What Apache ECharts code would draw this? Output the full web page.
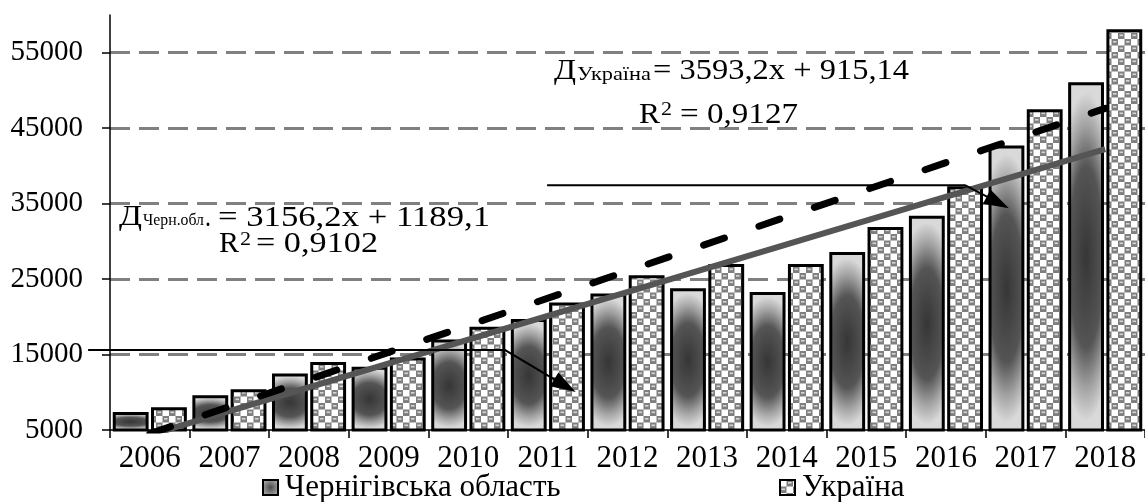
<!DOCTYPE html>
<html>
<head>
<meta charset="utf-8">
<script src="https://cdn.jsdelivr.net/npm/echarts@6/dist/echarts.min.js"></script>
<style>
  html, body { margin: 0; padding: 0; background: #fff; }
  #chart { width: 1145px; height: 502px; }
</style>
</head>
<body>
<div id="chart"></div>
<script>
// ---------- data ----------
const years = ['2006','2007','2008','2009','2010','2011','2012','2013','2014','2015','2016','2017','2018'];
const chernihiv = [7200, 9400, 12300, 13200, 16800, 19500, 22900, 23600, 23100, 28400, 33200, 42500, 50900];
const ukraine   = [7800, 10200, 13800, 14400, 18500, 21700, 25300, 26800, 26800, 31700, 37100, 47300, 57900];
// linear trend values at first and last category (from the printed equations)
const chernTrend = [4345, 42220];
const ukrTrend   = [4508, 47627];
const yTicks = { min: 5000, max: 60000, interval: 10000 };
const seriesNames = ['Чернігівська область', 'Україна'];

// ---------- styles ----------
const FONT = '"Liberation Serif", "Times New Roman", serif';

function makePattern() {
  const c = document.createElement('canvas');
  const s = 13;
  c.width = s; c.height = s;
  const g = c.getContext('2d');
  g.fillStyle = '#7f7f7f';
  g.fillRect(0, 0, s, s);
  g.fillStyle = '#ffffff';
  g.fillRect(0, 0, 6.5, 6.5);
  g.fillRect(6.5, 6.5, 6.5, 6.5);
  g.fillStyle = '#d6d6d6';
  g.fillRect(8, 2, 3.5, 1.6);
  g.fillRect(1.5, 8.5, 3.5, 1.6);
  return c;
}
const patternFill = { image: makePattern(), repeat: 'repeat' };

const chernStops = [
  { offset: 0, color: '#363636' },
  { offset: 0.55, color: '#555555' },
  { offset: 0.8, color: '#a3a3a3' },
  { offset: 1, color: '#d9d9d9' }
];

function barRender(side) {
  return function (params, api) {
    const ci = api.value(0);
    const v = api.value(1);
    const top = api.coord([ci, v]);
    const base = api.coord([ci, yTicks.min]);
    const band = api.size([1, 0])[0];
    const w = band * 0.4125;
    const off = band * 0.034;
    const x = side < 0 ? top[0] - off - w : top[0] + off;
    const y = top[1];
    const h = Math.max(base[1] - top[1], 0.5);
    const border = {
      type: 'rect',
      shape: { x: x, y: y, width: w, height: h },
      style: { fill: side < 0 ? null : patternFill, stroke: '#000', lineWidth: 3 }
    };
    if (side > 0) return border;
    const s = 0.5 * h / w;
    return {
      type: 'group',
      children: [
        {
          type: 'rect',
          x: x, y: y, scaleY: s,
          shape: { x: 0, y: 0, width: w, height: h / s },
          style: { fill: new echarts.graphic.RadialGradient(0.5, 0.5, 0.95, chernStops) }
        },
        border
      ]
    };
  };
}

const chart = echarts.init(document.getElementById('chart'));

const legendText = { fontFamily: FONT, fontSize: 31, color: '#000', padding: [0, 0, 0, 2] };
const option = {
  backgroundColor: '#fff',
  animation: false,
  grid: { left: 110, right: -5, top: 15, bottom: 72, containLabel: false },
  legend: [
    {
      left: 262, top: 472, padding: 0, itemWidth: 15, itemHeight: 15,
      selectedMode: false, textStyle: legendText,
      data: [{
        name: seriesNames[0], icon: 'rect',
        itemStyle: {
          color: new echarts.graphic.RadialGradient(0.5, 0.5, 0.6, [
            { offset: 0, color: '#4a4a4a' }, { offset: 1, color: '#b5b5b5' }]),
          borderColor: '#000', borderWidth: 2
        }
      }]
    },
    {
      left: 779, top: 472, padding: 0, itemWidth: 15, itemHeight: 15,
      selectedMode: false, textStyle: legendText,
      data: [{
        name: seriesNames[1], icon: 'rect',
        itemStyle: { color: patternFill, borderColor: '#000', borderWidth: 2 }
      }]
    }
  ],
  xAxis: {
    type: 'category',
    data: years,
    axisLine: { lineStyle: { color: '#000', width: 1.5 } },
    axisTick: { show: true, length: 8, interval: 0, lineStyle: { color: '#000', width: 1.5 } },
    axisLabel: { fontFamily: FONT, fontSize: 31, color: '#000', margin: 13, interval: 0 },
    splitLine: { show: false }
  },
  yAxis: {
    type: 'value',
    min: yTicks.min, max: yTicks.max, interval: yTicks.interval,
    axisLine: { show: true, lineStyle: { color: '#000', width: 1.5 } },
    axisTick: { show: true, length: 8, lineStyle: { color: '#000', width: 1.5 } },
    axisLabel: { fontFamily: FONT, fontSize: 29, color: '#000', margin: 27, showMaxLabel: false,
      formatter: function (v) { return String(v); } },
    splitLine: { show: true, showMinLine: false, showMaxLine: false,
      lineStyle: { color: '#808080', width: 3, type: [20, 9] } }
  },
  series: [
    {
      name: seriesNames[0], type: 'custom',
      renderItem: barRender(-1),
      itemStyle: { color: '#777' },
      data: chernihiv.map((v, i) => [i, v]),
      z: 2
    },
    {
      name: seriesNames[1], type: 'custom',
      renderItem: barRender(1),
      itemStyle: { color: '#999' },
      data: ukraine.map((v, i) => [i, v]),
      z: 2
    },
    {
      name: 'trendChern', type: 'line', symbol: 'none', clip: true, silent: true,
      data: [[0, chernTrend[0]], [years.length - 1, chernTrend[1]]],
      lineStyle: { color: '#555555', width: 6 },
      z: 3
    },
    {
      name: 'trendUkr', type: 'line', symbol: 'none', clip: true, silent: true,
      data: [[0, ukrTrend[0]], [years.length - 1, ukrTrend[1]]],
      lineStyle: { color: '#000000', width: 7, type: [22, 36.5], cap: 'round' },
      z: 3
    }
  ]
};
chart.setOption(option);

// ---------- annotations (arrows anchored in data space: [category index, value]) ----------
const arrowAnchors = [
  [[-0.775, 15600], [4.4625, 15600], [5.35, 10020]],
  [[4.99, 37440], [10.24, 37440], [10.79, 34390]]
];
function toPx(p) {
  const x0 = chart.convertToPixel({ xAxisIndex: 0 }, 0);
  const x1 = chart.convertToPixel({ xAxisIndex: 0 }, 1);
  return [x0 + p[0] * (x1 - x0), chart.convertToPixel({ yAxisIndex: 0 }, p[1])];
}
const graphics = [];
arrowAnchors.forEach(function (pts) {
  const px = pts.map(toPx);
  const tip = px[px.length - 1], prev = px[px.length - 2];
  let dx = tip[0] - prev[0], dy = tip[1] - prev[1];
  const len = Math.hypot(dx, dy); dx /= len; dy /= len;
  const L = 25, W = 8;
  const bx = tip[0] - L * dx, by = tip[1] - L * dy;
  const line = px.slice(0, -1).concat([[tip[0] - (L - 4) * dx, tip[1] - (L - 4) * dy]]);
  graphics.push({ type: 'polyline', z: 100, shape: { points: line },
    style: { stroke: '#000', lineWidth: 2, fill: null } });
  graphics.push({ type: 'polygon', z: 100, shape: { points: [tip, [bx + W * dy, by - W * dx], [bx - W * dy, by + W * dx]] },
    style: { fill: '#000' } });
});

const mctx = document.createElement('canvas').getContext('2d');
function fit(x0, x1, yc, text, size) {
  mctx.font = size + 'px ' + FONT;
  const w = mctx.measureText(text).width;
  return { type: 'text', x: x0, y: yc, scaleX: (x1 - x0) / w, z: 101,
    style: { text: text, fontFamily: FONT, fontSize: size, fill: '#000', verticalAlign: 'middle', align: 'left' } };
}
// Chernihiv equation
graphics.push(fit(119, 142, 217.5, 'Д', 30));
graphics.push(fit(143, 204, 220.5, 'Черн.обл', 17));
graphics.push(fit(205, 211, 218.5, '.', 30));
graphics.push(fit(218, 490, 218.5, '= 3156,2x + 1189,1', 30));
graphics.push(fit(219, 239, 244.5, 'R', 30));
graphics.push(fit(240, 251, 240, '2', 18));
graphics.push(fit(256, 378, 244.5, '= 0,9102', 30));
// Ukraine equation
graphics.push(fit(554, 576, 71, 'Д', 30));
graphics.push(fit(577, 651, 75.5, 'Україна', 19));
graphics.push(fit(653, 909, 71.5, '= 3593,2x + 915,14', 30));
graphics.push(fit(639, 660, 115, 'R', 30));
graphics.push(fit(661, 672, 110, '2', 18));
graphics.push(fit(680, 798, 115, '= 0,9127', 30));

chart.setOption({ graphic: graphics });
</script>
</body>
</html>
